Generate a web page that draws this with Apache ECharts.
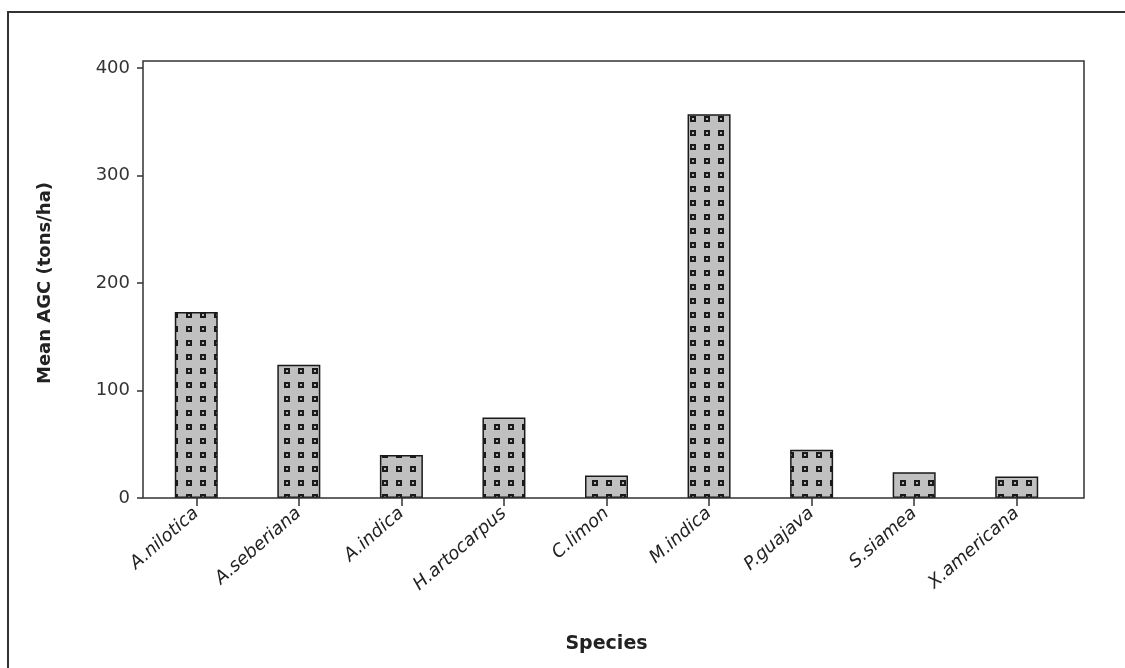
<!DOCTYPE html>
<html>
<head>
<meta charset="utf-8">
<script src="https://cdn.jsdelivr.net/npm/echarts@6/dist/echarts.min.js"></script>
<style>
html,body{margin:0;padding:0;background:#fff;}
#chart{width:1125px;height:668px;}
</style>
</head>
<body>
<div id="chart"></div>
<script>
const categories = ['A.nilotica','A.seberiana','A.indica','H.artocarpus','C.limon','M.indica','P.guajava','S.siamea','X.americana'];
const meanAGC = [173, 124, 40, 75, 21, 357, 45, 24, 20];
const yTicks = [0, 100, 200, 300, 400];

// pattern tile: gray with small dark-bordered squares
const tile = document.createElement('canvas');
tile.width = 14; tile.height = 14;
const tc = tile.getContext('2d');
tc.fillStyle = '#c0c0c0';
tc.fillRect(0, 0, 14, 14);
tc.fillStyle = '#1a1a1a';
tc.fillRect(4, 4, 6, 6);
tc.fillStyle = '#b8b8b8';
tc.fillRect(6, 6, 2, 2);

const chart = echarts.init(document.getElementById('chart'), null, {renderer: 'canvas'});
const textColor = '#222';
const option = {
  backgroundColor: '#fff',
  animation: false,
  grid: {left: 145, right: 57, top: 68, bottom: 170, containLabel: false},
  xAxis: {
    type: 'category',
    data: categories,
    boundaryGap: true,
    name: 'Species',
    nameLocation: 'middle',
    nameGap: 137,
    nameTextStyle: {fontFamily: 'DejaVu Sans', fontWeight: 'bold', fontSize: 19, color: textColor},
    axisLine: {show: false},
    axisTick: {show: true, alignWithLabel: true, interval: 0, length: 8, lineStyle: {color: '#333', width: 1.5}},
    axisLabel: {
      interval: 0, rotate: 41, margin: 13,
      fontFamily: 'DejaVu Sans', fontStyle: 'italic', fontSize: 18, color: textColor
    },
    splitLine: {show: false}
  },
  yAxis: {
    type: 'value',
    min: yTicks[0],
    max: yTicks[yTicks.length - 1],
    interval: 100,
    offset: 2,
    name: 'Mean AGC (tons/ha)',
    nameLocation: 'middle',
    nameGap: 89,
    nameTextStyle: {fontFamily: 'DejaVu Sans', fontWeight: 'bold', fontSize: 18, color: textColor},
    axisLine: {show: false},
    axisTick: {show: true, length: 6, lineStyle: {color: '#333', width: 1.5}},
    axisLabel: {margin: 13, fontFamily: 'DejaVu Sans', fontSize: 18, color: '#333'},
    splitLine: {show: false}
  },
  graphic: [
    {type: 'rect', z: 100, silent: true, shape: {x: 8, y: 12, width: 1300, height: 800},
     style: {fill: 'none', stroke: '#333', lineWidth: 2}},
    {type: 'rect', z: 100, silent: true, shape: {x: 143, y: 61, width: 941, height: 437},
     style: {fill: 'none', stroke: '#333', lineWidth: 1.5}}
  ],
  series: [{
    type: 'bar',
    data: meanAGC,
    barWidth: 43,
    itemStyle: {
      color: {image: tile, repeat: 'repeat'},
      borderColor: '#1a1a1a',
      borderWidth: 1.5
    }
  }]
};
chart.setOption(option);
</script>
</body>
</html>
